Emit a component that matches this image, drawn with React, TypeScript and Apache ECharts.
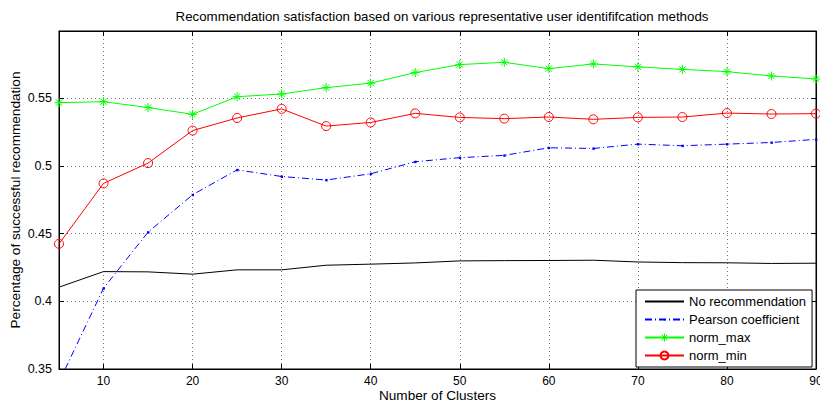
import React, { useEffect, useRef } from "react";
import * as echarts from "echarts";

const clusters = [5, 10, 15, 20, 25, 30, 35, 40, 45, 50, 55, 60, 65, 70, 75, 80, 85, 90];
const noRecommendation = [0.4104, 0.4219, 0.4217, 0.42, 0.4232, 0.4232, 0.4266, 0.4274, 0.4283, 0.4298, 0.43, 0.4301, 0.4303, 0.429, 0.4285, 0.4284, 0.4279, 0.4281];
const pearson = [0.3404, 0.4096, 0.451, 0.4786, 0.497, 0.4921, 0.4895, 0.4941, 0.503, 0.506, 0.5077, 0.5133, 0.5128, 0.516, 0.5148, 0.516, 0.5172, 0.5195];
const normMax = [0.5466, 0.5473, 0.543, 0.538, 0.551, 0.553, 0.5577, 0.561, 0.5688, 0.5747, 0.5764, 0.5717, 0.5752, 0.573, 0.5712, 0.5695, 0.5663, 0.5641];
const normMin = [0.4424, 0.487, 0.502, 0.526, 0.5353, 0.542, 0.5293, 0.532, 0.5387, 0.5357, 0.5348, 0.536, 0.5343, 0.5357, 0.536, 0.5389, 0.5382, 0.5385];
const xTicks = [10, 20, 30, 40, 50, 60, 70, 80, 90];
const yTicks = [0.35, 0.4, 0.45, 0.5, 0.55];

const FONT = "'Liberation Sans', Arial, sans-serif";
const ASTERISK = "path://M5,0L5,10M0,5L10,5M1.5,1.5L8.5,8.5M1.5,8.5L8.5,1.5";
const DOT = "path://M0,0M12,12M5,5h2.4v2.4h-2.4z";

const pair = (ys: number[]) => clusters.map((x, i) => [x, ys[i]]);

export default function App() {
  const ref = useRef<HTMLDivElement>(null);
  useEffect(() => {
    document.body.style.margin = "0";
    const chart = echarts.init(ref.current!, null, { renderer: "svg" });
    const grid = { left: 59, right: 4, top: 31, bottom: 34 };
    const splitStyle = { show: true, lineStyle: { color: "#777", type: [1, 3] as any, width: 1 } };
    chart.setOption({
      animation: false,
      backgroundColor: "#fff",
      title: {
        text: "Recommendation satisfaction based on various representative user identififcation methods",
        left: 437,
        textAlign: "center",
        top: 5,
        textStyle: { fontFamily: FONT, fontSize: 13.3, fontWeight: "normal", color: "#000" },
      },
      grid: { ...grid, show: true, borderColor: "#000", borderWidth: 1, containLabel: false, outerBoundsMode: "none" },
      legend: {
        orient: "vertical",
        left: 636,
        top: 290,
        padding: [5, 6, 5, 8],
        itemGap: 5,
        itemWidth: 39,
        itemHeight: 10,
        borderColor: "#000",
        borderWidth: 1,
        backgroundColor: "#fff",
        textStyle: { fontFamily: FONT, fontSize: 13, color: "#000" },
        data: [
          { name: "No recommendation", itemStyle: { color: "rgba(0,0,0,0)", borderWidth: 0, opacity: 0 } },
          { name: "Pearson coefficient" },
          { name: "norm_max", itemStyle: { color: "rgba(0,0,0,0)", borderColor: "#00ff00", borderWidth: 1 } },
          { name: "norm_min" },
        ],
      },
      xAxis: [
        {
          type: "value",
          min: 5,
          max: 90,
          name: "Number of Clusters",
          nameLocation: "middle",
          nameMoveOverlap: false,
          nameGap: 19,
          nameTextStyle: { fontFamily: FONT, fontSize: 13.6, color: "#000" },
          axisLine: { lineStyle: { color: "#000" } },
          axisTick: { inside: true, length: 5, customValues: xTicks, lineStyle: { color: "#000" } },
          axisLabel: { customValues: xTicks, fontFamily: FONT, fontSize: 12, color: "#000", margin: 6 },
          splitLine: splitStyle,
        },
        {
          type: "value",
          position: "top",
          min: 5,
          max: 90,
          axisLine: { lineStyle: { color: "#000" } },
          axisTick: { inside: true, length: 5, customValues: xTicks, lineStyle: { color: "#000" } },
          axisLabel: { show: false },
          splitLine: { show: false },
        },
      ],
      yAxis: [
        {
          type: "value",
          min: 0.35,
          max: 0.5995,
          name: "Percentage of successful recommendation",
          nameLocation: "middle",
          nameMoveOverlap: false,
          nameGap: 37,
          nameTextStyle: { fontFamily: FONT, fontSize: 13.6, color: "#000" },
          axisLine: { show: true, lineStyle: { color: "#000" } },
          axisTick: { show: true, inside: true, length: 5, customValues: yTicks, lineStyle: { color: "#000" } },
          axisLabel: {
            customValues: yTicks,
            fontFamily: FONT,
            fontSize: 12.5,
            color: "#000",
            margin: 7,
            formatter: (v: number) => String(Math.round(v * 100) / 100),
          },
          splitLine: splitStyle,
        },
        {
          type: "value",
          position: "right",
          min: 0.35,
          max: 0.5995,
          axisLine: { show: true, lineStyle: { color: "#000" } },
          axisTick: { show: true, inside: true, length: 5, customValues: yTicks, lineStyle: { color: "#000" } },
          axisLabel: { show: false },
          splitLine: { show: false },
        },
      ],
      series: [
        {
          name: "No recommendation",
          type: "line",
          data: pair(noRecommendation),
          symbol: "none",
          lineStyle: { color: "#000", width: 1 },
          itemStyle: { color: "#000" },
        },
        {
          name: "Pearson coefficient",
          type: "line",
          data: pair(pearson),
          symbol: DOT,
          symbolSize: 12,
          lineStyle: { color: "#0000ff", width: 1, type: [7, 3, 1, 3] as any },
          itemStyle: { color: "#0000ff" },
        },
        {
          name: "norm_max",
          type: "line",
          data: pair(normMax),
          symbol: ASTERISK,
          symbolSize: 9,
          lineStyle: { color: "#00ff00", width: 1 },
          itemStyle: { color: "#00ff00", borderColor: "#00ff00", borderWidth: 1 },
        },
        {
          name: "norm_min",
          type: "line",
          data: pair(normMin),
          symbol: "circle",
          symbolSize: 9,
          lineStyle: { color: "#ff0000", width: 1 },
          itemStyle: { color: "rgba(255,255,255,0)", borderColor: "#ff0000", borderWidth: 1 },
        },
      ],
    });
    return () => chart.dispose();
  }, []);
  return <div ref={ref} style={{ width: 820, height: 403 }} />;
}
